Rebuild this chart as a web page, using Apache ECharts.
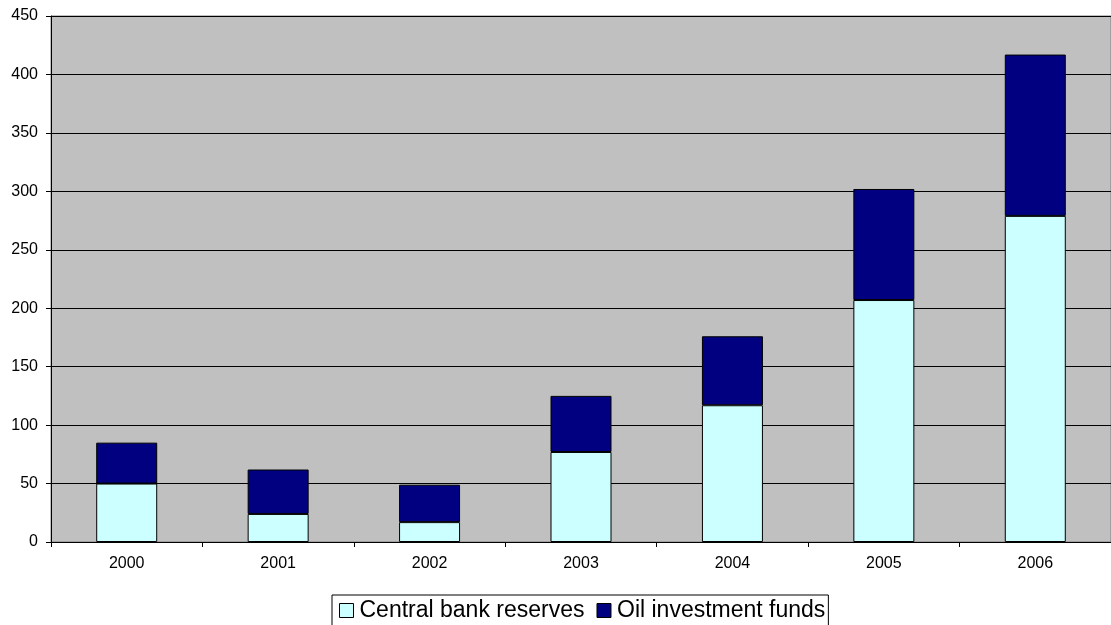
<!DOCTYPE html>
<html>
<head>
<meta charset="utf-8">
<script src="https://cdn.jsdelivr.net/npm/echarts@6/dist/echarts.min.js"></script>
<style>
html,body{margin:0;padding:0;background:#fff;}
#chart{width:1111px;height:625px;}
</style>
</head>
<body>
<div id="chart"></div>
<script>
const years = ['2000', '2001', '2002', '2003', '2004', '2005', '2006'];
const centralBankReserves = [50, 24, 17, 77, 117, 207, 279];
const oilInvestmentFunds = [35, 38, 32, 48, 59, 95, 138];
const seriesNames = ['Central bank reserves', 'Oil investment funds'];

const FONT = '"Liberation Sans", Arial, sans-serif';
const chart = echarts.init(document.getElementById('chart'), null, {renderer: 'canvas'});
chart.setOption({
  animation: false,
  backgroundColor: '#ffffff',
  grid: {
    left: 51, top: 16, right: 0, bottom: 83,
    show: true, backgroundColor: '#C0C0C0', borderColor: '#808080', borderWidth: 1
  },
  legend: {
    left: 332, top: 595,
    orient: 'horizontal',
    borderColor: '#000', borderWidth: 1,
    padding: [4, 3, 4, 7],
    itemWidth: 14, itemHeight: 14, itemGap: 12,
    icon: 'rect',
    itemStyle: {borderColor: '#000', borderWidth: 1},
    textStyle: {fontFamily: FONT, fontSize: 23, color: '#000', padding: [0, 0, 0, 1]},
    data: seriesNames
  },
  xAxis: {
    type: 'category',
    data: years,
    boundaryGap: true,
    axisLine: {lineStyle: {color: '#000', width: 1}},
    axisTick: {show: true, length: 5, alignWithLabel: false, lineStyle: {color: '#000'}},
    axisLabel: {fontFamily: FONT, fontSize: 16, color: '#000', margin: 14},
    splitLine: {show: false}
  },
  yAxis: {
    type: 'value',
    min: 0, max: 450, interval: 50,
    axisLine: {show: true, lineStyle: {color: '#000', width: 1}},
    axisTick: {show: true, length: 5, lineStyle: {color: '#000'}},
    axisLabel: {fontFamily: FONT, fontSize: 16, color: '#000', margin: 13},
    splitLine: {show: true, lineStyle: {color: '#000', width: 1}}
  },
  series: [
    {
      name: seriesNames[0], type: 'bar', stack: 'total', barWidth: 61,
      itemStyle: {color: '#CCFFFF', borderColor: '#000', borderWidth: 1},
      data: centralBankReserves
    },
    {
      name: seriesNames[1], type: 'bar', stack: 'total', barWidth: 61,
      itemStyle: {color: '#000080', borderColor: '#000', borderWidth: 1},
      data: oilInvestmentFunds
    }
  ]
});
</script>
</body>
</html>
